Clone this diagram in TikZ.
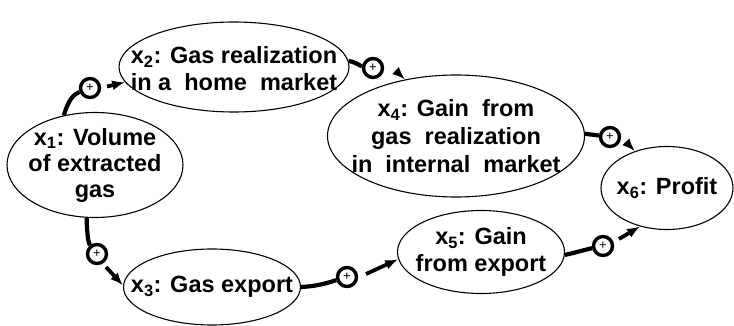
\documentclass[tikz,border=0pt]{standalone}
\usepackage{fontspec}
\setmainfont{Liberation Sans}
\usetikzlibrary{shapes.geometric,arrows.meta}
\begin{document}
\begin{tikzpicture}[x=1pt,y=-1pt,
  state/.style={draw, ellipse, line width=1.1pt, inner sep=0pt},
  lbl/.style={font=\bfseries\fontsize{23.5}{27}\selectfont, align=center, inner sep=0pt},
  sign/.style={draw, circle, line width=3.4pt, minimum size=19pt, inner sep=0pt, font=\fontsize{13}{13}\selectfont},
  link/.style={line width=4.2pt},
  arr/.style={line width=3.8pt, -{Latex[length=13pt,width=10pt]}}
]
\useasboundingbox (0,0) rectangle (734,326);

% states
\node[state, minimum width=176pt, minimum height=105pt] (n1) at (95,165) {};
\node[state, minimum width=230pt, minimum height=90pt] (n2) at (234,67) {};
\node[state, minimum width=177pt, minimum height=76pt] (n3) at (212,287) {};
\node[state, minimum width=257pt, minimum height=122pt] (n4) at (456,136) {};
\node[state, minimum width=167pt, minimum height=83pt] (n5) at (481,252) {};
\node[state, minimum width=132pt, minimum height=83pt] (n6) at (667,188) {};

% labels
\node[lbl, font=\bfseries\fontsize{23.5}{26}\selectfont] (l1) at (n1.center) {x\textsubscript{1}: Volume\\of extracted\\gas};
\node[lbl] (l2) at ([yshift=-2pt]n2.center) {x\textsubscript{2}: Gas realization\\in a\ \ home\ \ market};
\node[lbl] (l3) at (n3.center) {x\textsubscript{3}: Gas export};
\node[lbl, font=\bfseries\fontsize{23.5}{28}\selectfont] (l4) at (n4.center) {x\textsubscript{4}: Gain\ \ from\\gas\ \ realization\\in\ \ internal\ \ market};
\node[lbl] (l5) at (n5.center) {x\textsubscript{5}: Gain\\from export};
\node[lbl] (l6) at (n6.center) {x\textsubscript{6}: Profit};

% signs
\node[sign] (s1) at (90,88) {+};
\node[sign] (s2) at (373,68) {+};
\node[sign] (s3) at (610,137) {+};
\node[sign] (s4) at (97,254) {+};
\node[sign] (s5) at (347,277) {+};
\node[sign] (s6) at (603,246) {+};

% arrow tails
\coordinate (t1) at (107,86.5);
\coordinate (t2) at (396,71);
\coordinate (t3) at (626.5,142.5);
\coordinate (t4) at (106,267);
\coordinate (t5) at (366,274);
\coordinate (t6) at (619,239);

% links to signs
\draw[link] (n1.122) .. controls (68,100) and (74,94) .. (s1);
\draw[link] (n2.3) .. controls (356,62) and (360,66) .. (s2);
\draw[link] (n4.1) -- (s3);
\draw[link] (n1.261) .. controls (87,238) and (89,244) .. (s4);
\draw[link] (n3.east) .. controls (320,286) and (330,282) .. (s5);
\draw[link] (n5.-2) .. controls (578,252) and (588,249) .. (s6);

% arrows
\draw[arr] (t1) -- (n2.188);
\draw[arr] (t2) -- (n4.132);
\draw[arr] (t3) -- (n6.131);
\draw[arr] (t4) -- (n3.179);
\draw[arr] (t5) -- (n5.185);
\draw[arr] (t6) -- (n6.235);
\end{tikzpicture}
\end{document}
